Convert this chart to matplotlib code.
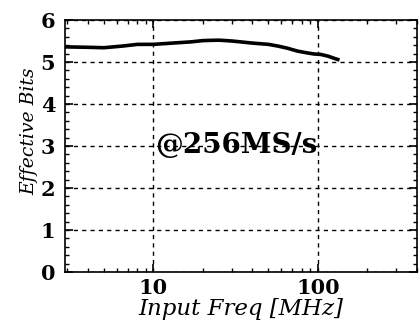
import matplotlib
matplotlib.use("Agg")
import matplotlib.pyplot as plt
import numpy as np
from matplotlib.ticker import LogLocator, MultipleLocator, FixedLocator, NullFormatter

freq = [2.9, 4.0, 5.0, 6.5, 8.0, 10.0, 13.0, 17.0, 20.0, 25.0, 30.0, 40.0, 50.0, 57.0, 65.0, 75.0, 85.0, 95.0, 104.0, 115.0, 125.0, 132.0]
enob = [5.36, 5.35, 5.34, 5.38, 5.42, 5.42, 5.45, 5.48, 5.51, 5.52, 5.50, 5.45, 5.42, 5.38, 5.33, 5.26, 5.22, 5.19, 5.18, 5.14, 5.09, 5.06]

fig = plt.figure(figsize=(4.19, 3.31), dpi=100)
ax = fig.add_axes([65/419, 1-272/331, (417-65)/419, (272-20)/331])
ax.plot(freq, enob, color="black", lw=2.6)
ax.set_xscale("log")
ax.set_xlim(2.9, 400)
ax.set_ylim(0, 6)

ax.xaxis.set_major_locator(FixedLocator([10, 100]))
ax.xaxis.set_minor_locator(LogLocator(base=10, subs=np.arange(2, 10)))
ax.xaxis.set_minor_formatter(NullFormatter())
ax.set_xticklabels(["10", "100"])
ax.yaxis.set_major_locator(MultipleLocator(1))
ax.yaxis.set_minor_locator(MultipleLocator(0.2))

ax.grid(True, which="major", ls=(0, (3, 3)), color="black", lw=1)
ax.tick_params(which="both", direction="in", top=True, right=True, color="black")
ax.tick_params(which="major", length=6, width=1.2, labelsize=15)
ax.tick_params(which="minor", length=3, width=1)
ax.tick_params(axis="x", which="major", pad=4)
ax.tick_params(axis="y", which="major", pad=7)
for lab in ax.get_xticklabels() + ax.get_yticklabels():
    lab.set_family("DejaVu Serif")
    lab.set_weight("bold")
for s in ax.spines.values():
    s.set_linewidth(1.2)

ax.set_xlabel("Input Freq [MHz]", family="DejaVu Serif", style="italic", fontsize=16.5, labelpad=0)
ax.set_ylabel("Effective Bits", family="DejaVu Serif", style="italic", fontsize=13.5)
ax.yaxis.set_label_coords(-0.075, 0.56)
ax.text(32, 2.83, "@256MS/s", family="DejaVu Serif", weight="bold", fontsize=20, ha="center", va="baseline")

fig.savefig("out.png", dpi=100)
